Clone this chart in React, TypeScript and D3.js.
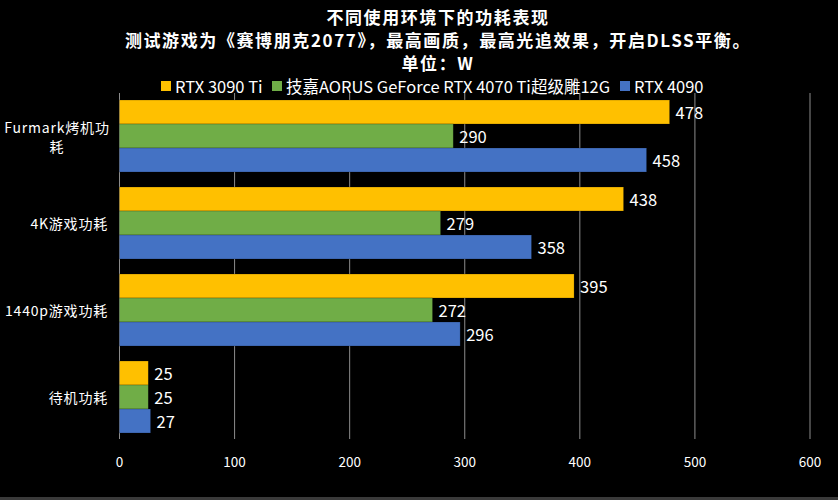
import React from "react";
import * as d3 from "d3";

const categories = ["Furmark烤机功耗", "4K游戏功耗", "1440p游戏功耗", "待机功耗"];
const categoryLines = [["Furmark烤机功", "耗"], ["4K游戏功耗"], ["1440p游戏功耗"], ["待机功耗"]];
const seriesNames = ["RTX 3090 Ti", "技嘉AORUS GeForce RTX 4070 Ti超级雕12G", "RTX 4090"];
const rtx3090ti = [478, 438, 395, 25];
const aorus4070ti = [290, 279, 272, 25];
const rtx4090 = [458, 358, 296, 27];
const seriesColors = ["#FFC000", "#70AD47", "#4472C4"];
const xTicks = [0, 100, 200, 300, 400, 500, 600];
const titleLines = [
  "不同使用环境下的功耗表现",
  "测试游戏为《赛博朋克2077》，最高画质，最高光追效果，开启DLSS平衡。",
  "单位：W",
];

const W = 838;
const H = 500;
const FONT = "'Noto Sans CJK SC', 'Noto Sans', sans-serif";

export default function App() {
  const seriesValues = [rtx3090ti, aorus4070ti, rtx4090];
  const x = d3.scaleLinear().domain([0, 600]).range([119.5, 810]);
  const y = d3
    .scaleBand<string>()
    .domain(categories)
    .range([92.5, 440.5])
    .paddingInner(0.1724)
    .paddingOuter(0.0862);
  const ys = d3
    .scaleBand<string>()
    .domain(seriesNames)
    .range([0, y.bandwidth()])
    .padding(0);

  const legendX = [161, 272, 620];

  return (
    <svg
      width={W}
      height={H}
      style={{ position: "absolute", left: 0, top: 0, background: "#000" }}
      fontFamily={FONT}
    >
      <rect x={0} y={0} width={W} height={H} fill="#000" />
      <rect x={0} y={497} width={W} height={3} fill="#3a3a3a" />
      {/* title */}
      {titleLines.map((t, i) => (
        <text
          key={i}
          x={438}
          y={16 + i * 23}
          textAnchor="middle"
          dominantBaseline="central"
          fill="#fff"
          fontSize={17}
          fontWeight="bold"
          letterSpacing={1.6}
        >
          {t}
        </text>
      ))}
      {/* legend */}
      {seriesNames.map((s, i) => (
        <g key={s}>
          <rect x={legendX[i]} y={81} width={10} height={10} fill={seriesColors[i]} />
          <text
            x={legendX[i] + 14}
            y={86}
            dominantBaseline="central"
            fill="#fff"
            fontSize={16.5}
          >
            {s}
          </text>
        </g>
      ))}
      {/* grid */}
      {xTicks.map((t) => (
        <line
          key={t}
          x1={x(t)}
          x2={x(t)}
          y1={93}
          y2={439}
          stroke="#8c8c8c"
          strokeWidth={1}
        />
      ))}
      {/* bars */}
      {categories.map((c, ci) => (
        <g key={c} transform={`translate(0,${y(c)})`}>
          {seriesNames.map((s, si) => {
            const v = seriesValues[si][ci];
            const by = ys(s) as number;
            return (
              <g key={s}>
                <rect
                  x={x(0)}
                  y={by}
                  width={x(v) - x(0)}
                  height={ys.bandwidth()}
                  fill={seriesColors[si]}
                  stroke="rgba(0,0,0,0.35)"
                  strokeWidth={0.6}
                />
                <text
                  x={x(v) + 6}
                  y={by + ys.bandwidth() / 2}
                  dominantBaseline="central"
                  fill="#fff"
                  fontSize={16.5}
                >
                  {v}
                </text>
              </g>
            );
          })}
        </g>
      ))}
      {/* y labels */}
      {categories.map((c, ci) => {
        const lines = categoryLines[ci];
        const cy = (y(c) as number) + y.bandwidth() / 2;
        const multi = lines.length > 1;
        return (
          <text
            key={c}
            x={multi ? 57 : 108}
            textAnchor={multi ? "middle" : "end"}
            fill="#fff"
            fontSize={14}
            letterSpacing={0.8}
          >
            {lines.map((l, li) => (
              <tspan
                key={li}
                x={multi ? 57 : 108}
                y={cy + (li - (lines.length - 1) / 2) * 19}
                dominantBaseline="central"
              >
                {l}
              </tspan>
            ))}
          </text>
        );
      })}
      {/* x tick labels */}
      {xTicks.map((t) => (
        <text
          key={t}
          x={x(t)}
          y={461}
          textAnchor="middle"
          dominantBaseline="central"
          fill="#fff"
          fontSize={13.5}
        >
          {t}
        </text>
      ))}
    </svg>
  );
}
